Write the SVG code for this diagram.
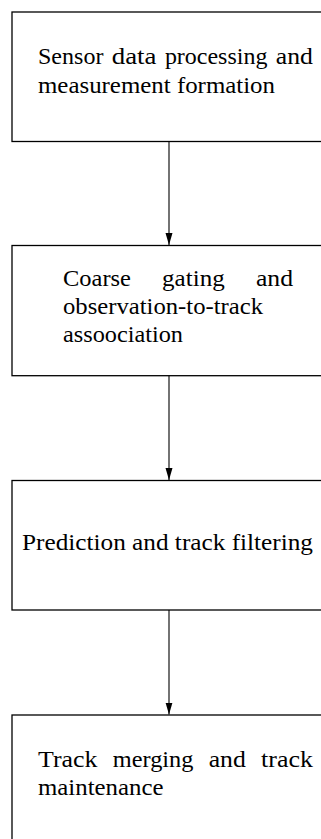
<svg xmlns="http://www.w3.org/2000/svg" width="321" height="839" viewBox="0 0 321 839">
<style>
.box{fill:#fff;stroke:#000;stroke-width:1.3}
.edge{stroke:#000;stroke-width:1.1;fill:none}
.lbl{font-family:"Liberation Serif","DejaVu Serif",serif;font-size:23px;fill:#000}
</style>
<defs>
<marker id="arr" markerUnits="userSpaceOnUse" markerWidth="13" markerHeight="8" refX="12" refY="4" orient="auto" viewBox="0 0 13 8">
<path d="M0,0.5 L12,4 L0,7.5 Z" fill="#000"/>
</marker>
</defs>
<rect width="321" height="839" fill="#fff"/>
<g id="n1" class="lbl">
<rect class="box" x="12" y="12" width="330" height="129.5"/>
<text x="38" y="64" textLength="65.4" lengthAdjust="spacingAndGlyphs">Sensor</text>
<text x="111.8" y="64" textLength="44.7" lengthAdjust="spacingAndGlyphs">data</text>
<text x="164.9" y="64" textLength="102.5" lengthAdjust="spacingAndGlyphs">processing</text>
<text x="275.8" y="64" textLength="37.1" lengthAdjust="spacingAndGlyphs">and</text>
<text x="38" y="92.5" textLength="237" lengthAdjust="spacingAndGlyphs">measurement formation</text>
</g>
<g id="n2" class="lbl">
<rect class="box" x="12" y="245.5" width="330" height="130.2"/>
<text x="63" y="285.5" textLength="67.9" lengthAdjust="spacingAndGlyphs">Coarse</text>
<text x="162.1" y="285.5" textLength="62.6" lengthAdjust="spacingAndGlyphs">gating</text>
<text x="255.9" y="285.5" textLength="37.1" lengthAdjust="spacingAndGlyphs">and</text>
<text x="63" y="314" textLength="200" lengthAdjust="spacingAndGlyphs">observation-to-track</text>
<text x="63" y="342" textLength="120" lengthAdjust="spacingAndGlyphs">assoociation</text>
</g>
<g id="n3" class="lbl">
<rect class="box" x="12" y="480.5" width="330" height="129.5"/>
<text x="22" y="549.5" textLength="291" lengthAdjust="spacingAndGlyphs">Prediction and track filtering</text>
</g>
<g id="n4" class="lbl">
<rect class="box" x="12" y="715" width="330" height="140"/>
<text x="38" y="767" textLength="59.5" lengthAdjust="spacingAndGlyphs">Track</text>
<text x="112.8" y="767" textLength="80.6" lengthAdjust="spacingAndGlyphs">merging</text>
<text x="208.7" y="767" textLength="37.1" lengthAdjust="spacingAndGlyphs">and</text>
<text x="261.1" y="767" textLength="51.8" lengthAdjust="spacingAndGlyphs">track</text>
<text x="38" y="795" textLength="125.5" lengthAdjust="spacingAndGlyphs">maintenance</text>
</g>
<g id="connectors">
<line class="edge" x1="169" y1="141.5" x2="169" y2="245" marker-end="url(#arr)"/>
<line class="edge" x1="169" y1="375.7" x2="169" y2="480" marker-end="url(#arr)"/>
<line class="edge" x1="169" y1="610" x2="169" y2="714.5" marker-end="url(#arr)"/>
</g>
</svg>
